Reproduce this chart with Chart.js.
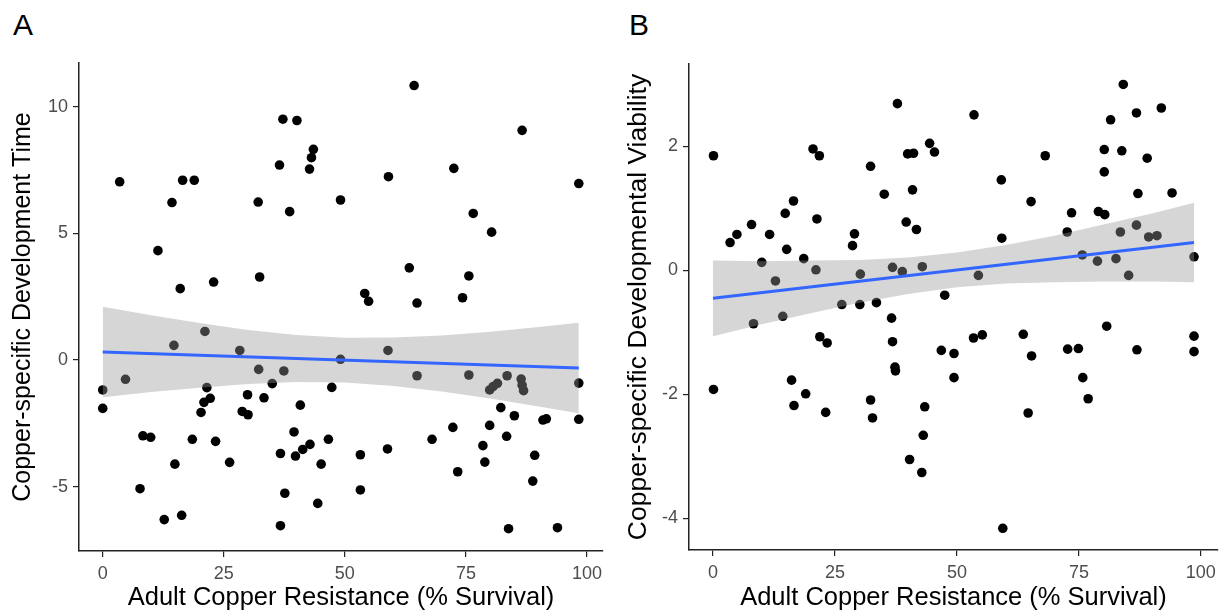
<!DOCTYPE html>
<html>
<head>
<meta charset="utf-8">
<script src="https://cdn.jsdelivr.net/npm/chart.js@4.4.1/dist/chart.umd.min.js"></script>
<style>
    html, body { margin: 0; padding: 0; background: #ffffff; }
    body { position: relative; width: 1222px; height: 611px; overflow: hidden; }
    canvas { position: absolute; top: 0; }
    #chartA { left: 0; }
    #chartB { left: 611px; }
    .tag { position: absolute; top: 10px; font: 30px "Liberation Sans", Arial, sans-serif; line-height: 30px; color: #000; }
</style>
</head>
<body>
<div class="tag" style="left:13px;">A</div>
<div class="tag" style="left:629px;">B</div>
<canvas id="chartA" width="611" height="611"></canvas>
<canvas id="chartB" width="611" height="611"></canvas>
<script>
// Panel A : development time vs adult resistance
const resistA  = [ 3.5, 16.5, 18.9, 14.3, 11.4, 16.0, 22.9, 32.4, 32.1, 36.5, 37.2, 40.1, 38.6, 43.5, 43.1, 42.7, 49.1, 64.3, 86.6, 59.0,
                   72.5, 98.3, 76.5, 80.3, 63.3, 75.6, 54.1, 54.9, 64.9, 74.3, 0.0, 0.0, 4.7, 14.7, 21.1, 28.3, 32.2, 37.4, 35.0, 21.5,
                   22.2, 20.9, 20.3, 29.9, 33.3, 28.8, 30.0, 40.8, 47.3, 8.3, 9.9, 18.5, 23.3, 14.9, 26.2, 36.7, 39.5, 39.8, 41.3, 42.8,
                   46.6, 45.1, 7.7, 37.6, 44.4, 12.7, 16.3, 36.7, 49.1, 58.9, 64.9, 75.6, 83.5, 86.4, 86.6, 86.9, 79.9, 80.6, 81.5, 98.3,
                   98.3, 82.2, 85.0, 90.9, 91.6, 79.9, 72.3, 68.0, 83.4, 78.5, 78.9, 73.3, 58.8, 53.2, 53.2, 89.2, 88.8, 83.8, 93.9 ];
const devTimeA = [ 7.04, 7.10, 7.10, 6.22, 4.32, 2.82, 3.08, 3.28, 6.24, 7.70, 9.51, 9.46, 5.86, 8.32, 7.99, 7.54, 6.32, 10.84, 9.07, 7.24,
                   7.57, 6.97, 5.79, 5.05, 3.64, 3.32, 2.63, 2.32, 2.25, 2.46, -1.18, -1.91, -0.76, 0.58, 1.13, 0.38, -0.37, -0.43, -0.93, -1.09,
                   -1.51, -1.67, -2.07, -1.37, -1.49, -2.03, -2.16, -1.78, -1.08, -2.99, -3.05, -3.13, -3.21, -4.11, -4.04, -3.69, -2.84, -3.79, -3.53, -3.33,
                   -3.13, -4.11, -5.08, -5.26, -5.66, -6.30, -6.13, -6.54, 0.03, 0.38, -0.62, -0.59, -0.62, -0.75, -0.99, -1.21, -1.18, -1.05, -0.92, -0.91,
                   -2.34, -1.88, -2.20, -2.37, -2.32, -2.58, -2.66, -3.13, -3.01, -3.38, -4.03, -4.41, -3.51, -3.74, -5.13, -3.76, -4.78, -6.66, -6.62 ];
const fitXA    = [ 0, 98.3 ];
const fitYA    = [ 0.315, -0.314 ];
const bandXA   = [ 0, 10, 20, 30, 40, 50, 60, 70, 80, 90, 98.3 ];
const bandLoA  = [ -1.47, -1.26, -1.09, -0.95, -0.87, -0.89, -1.02, -1.24, -1.52, -1.83, -2.10 ];
const bandHiA  = [ 2.10, 1.77, 1.46, 1.19, 0.99, 0.88, 0.89, 0.97, 1.12, 1.31, 1.47 ];
const xTicksA  = [ 0, 25, 50, 75, 100 ];
const yTicksA  = [ -5, 0, 5, 10 ];

// Panel B : developmental viability vs adult resistance
const resistB  = [ 0.1, 3.5, 4.9, 7.9, 11.6, 14.8, 16.5, 15.1, 18.6, 10.0, 12.8, 21.1, 20.5, 21.8, 21.3, 29.0, 28.6, 30.2, 32.3, 35.1,
                   37.8, 36.8, 38.8, 39.9, 41.1, 40.9, 39.6, 41.7, 42.9, 44.4, 53.5, 45.4, 54.4, 47.5, 59.1, 65.2, 59.2, 68.1, 73.5, 72.6,
                   75.7, 78.8, 82.6, 85.2, 79.0, 80.3, 80.2, 80.2, 81.5, 84.1, 83.8, 86.8, 89.0, 91.9, 87.1, 94.1, 83.5, 86.8, 89.3, 91.0,
                   98.6, 26.4, 30.1, 33.5, 8.3, 14.3, 21.9, 23.4, 36.6, 36.8, 37.3, 37.4, 0.1, 16.1, 19.0, 16.6, 23.1, 32.3, 32.7, 43.4,
                   43.1, 40.3, 42.8, 46.8, 49.4, 49.4, 53.4, 55.2, 59.4, 63.6, 65.3, 64.6, 72.7, 74.9, 75.8, 76.9, 80.7, 86.9, 98.6, 98.6 ];
const viabB    = [ 1.85, 0.45, 0.58, 0.74, 0.58, 0.92, 1.12, 0.34, 0.19, 0.13, -0.17, 0.01, 1.96, 1.85, 0.83, 0.59, 0.40, -0.06, 1.68, 1.23,
                   2.69, 0.05, -0.02, 1.88, 1.89, 1.30, 0.78, 0.66, 0.06, 2.05, 2.51, 1.91, -0.08, -0.40, 1.46, 1.11, 0.52, 1.85, 0.93, 0.62,
                   0.25, 0.15, 0.19, -0.08, 0.95, 0.90, 1.59, 1.95, 2.43, 3.00, 1.93, 2.54, 1.81, 2.62, 1.24, 1.25, 0.62, 0.73, 0.54, 0.56,
                   0.22, -0.55, -0.55, -0.52, -0.86, -0.74, -1.07, -1.17, -0.77, -1.15, -1.56, -1.62, -1.92, -1.77, -1.99, -2.18, -2.29, -2.09, -2.38, -2.20,
                   -2.66, -3.05, -3.26, -1.29, -1.34, -1.73, -1.09, -1.04, -4.16, -1.03, -1.38, -2.30, -1.27, -1.26, -1.73, -2.07, -0.90, -1.28, -1.06, -1.31 ];
const fitXB    = [ 0, 98.6 ];
const fitYB    = [ -0.45, 0.45 ];
const bandXB   = [ 0, 10, 20, 30, 40, 50, 60, 70, 80, 90, 98.6 ];
const bandLoB  = [ -1.06, -0.87, -0.69, -0.52, -0.38, -0.27, -0.21, -0.19, -0.18, -0.18, -0.19 ];
const bandHiB  = [ 0.16, 0.15, 0.16, 0.17, 0.21, 0.29, 0.41, 0.56, 0.74, 0.92, 1.09 ];
const xTicksB  = [ 0, 25, 50, 75, 100 ];
const yTicksB  = [ -4, -2, 0, 2 ];

let scatterPanels = {
    variables : {
        pointColor : '#000000',
        fitColor   : '#3366ff',
        bandColor  : 'rgba(153,153,153,0.4)',
        axisColor  : '#222222',
        tickColor  : '#4d4d4d',
        fontFamily : '"Liberation Sans", Arial, Helvetica, sans-serif'
    },
    functions : {
        toPoints : ( xs, ys ) => xs.map( ( x, i ) => ( { x : x, y : ys[ i ] } ) ),

        drawPanel : ( canvas, p ) => {
            let v = scatterPanels.variables;
            let f = scatterPanels.functions;

            let data = {
                datasets : [
                    {
                        type        : 'line',
                        data        : f.toPoints( p.fitX, p.fitY ),
                        borderColor : v.fitColor,
                        borderWidth : 3,
                        pointRadius : 0,
                        fill        : false,
                        order       : 1
                    },
                    {
                        type        : 'line',
                        data        : f.toPoints( p.bandX, p.bandLo ),
                        borderWidth : 0,
                        pointRadius : 0,
                        fill        : false,
                        order       : 2
                    },
                    {
                        type            : 'line',
                        data            : f.toPoints( p.bandX, p.bandHi ),
                        borderWidth     : 0,
                        pointRadius     : 0,
                        backgroundColor : v.bandColor,
                        fill            : '-1',
                        order           : 2
                    },
                    {
                        type            : 'scatter',
                        data            : f.toPoints( p.xs, p.ys ),
                        backgroundColor : v.pointColor,
                        borderWidth     : 0,
                        pointRadius     : 4.8,
                        order           : 3
                    }
                ]
            };

            let options = {
                responsive          : false,
                animation           : false,
                devicePixelRatio    : 1,
                events              : [],
                layout : {
                    autoPadding : false,
                    padding     : { top : p.top, right : p.right, left : 0, bottom : 0 }
                },
                plugins : {
                    legend  : { display : false },
                    tooltip : { enabled : false }
                },
                scales : {
                    x : {
                        type  : 'linear',
                        min   : p.xMin,
                        max   : p.xMax,
                        afterBuildTicks : ( axis ) => { axis.ticks = p.xTicks.map( t => ( { value : t } ) ); },
                        afterFit        : ( axis ) => { axis.height = p.xHeight; },
                        grid   : { drawOnChartArea : false, drawTicks : true, tickLength : 6, color : v.axisColor, lineWidth : 1.2 },
                        border : { display : true, color : v.axisColor, width : 1.5 },
                        ticks  : { color : v.tickColor, font : { family : v.fontFamily, size : 18 }, padding : 6, maxRotation : 0 },
                        title  : {
                            display : true,
                            text    : p.xTitle,
                            color   : '#000000',
                            font    : { family : v.fontFamily, size : 25.5, lineHeight : 1 },
                            padding : { top : 0, bottom : 0 }
                        }
                    },
                    y : {
                        type  : 'linear',
                        min   : p.yMin,
                        max   : p.yMax,
                        afterBuildTicks : ( axis ) => { axis.ticks = p.yTicks.map( t => ( { value : t } ) ); },
                        afterFit        : ( axis ) => { axis.width = p.yWidth; },
                        grid   : { drawOnChartArea : false, drawTicks : true, tickLength : 6, color : v.axisColor, lineWidth : 1.2 },
                        border : { display : true, color : v.axisColor, width : 1.5 },
                        ticks  : { color : v.tickColor, font : { family : v.fontFamily, size : 18 }, padding : 5 },
                        title  : {
                            display : true,
                            text    : p.yTitle,
                            color   : '#000000',
                            font    : { family : v.fontFamily, size : p.yTitleSize, lineHeight : 1 },
                            padding : { top : p.yTitlePad, bottom : 0 }
                        }
                    }
                }
            };

            let ctx = canvas.getContext( '2d' );
            return new Chart( ctx, { type : 'scatter', data : data, options : options } );
        }
    }
};

scatterPanels.functions.drawPanel( document.getElementById( 'chartA' ), {
    xs : resistA, ys : devTimeA,
    fitX : fitXA, fitY : fitYA,
    bandX : bandXA, bandLo : bandLoA, bandHi : bandHiA,
    xTicks : xTicksA, yTicks : yTicksA,
    xMin : -4.9, xMax : 103.3, yMin : -7.54, yMax : 11.73,
    top : 63, right : 8, yWidth : 79, xHeight : 60,
    xTitle : 'Adult Copper Resistance (% Survival)',
    yTitle : 'Copper-specific Development Time',
    yTitleSize : 25, yTitlePad : 11
} );

scatterPanels.functions.drawPanel( document.getElementById( 'chartB' ), {
    xs : resistB, ys : viabB,
    fitX : fitXB, fitY : fitYB,
    bandX : bandXB, bandLo : bandLoB, bandHi : bandHiB,
    xTicks : xTicksB, yTicks : yTicksB,
    xMin : -4.92, xMax : 103.5, yMin : -4.51, yMax : 3.33,
    top : 64, right : 4, yWidth : 78, xHeight : 61,
    xTitle : 'Adult Copper Resistance (% Survival)',
    yTitle : 'Copper-specific Developmental Viability',
    yTitleSize : 26.5, yTitlePad : 14.5
} );
</script>
</body>
</html>
